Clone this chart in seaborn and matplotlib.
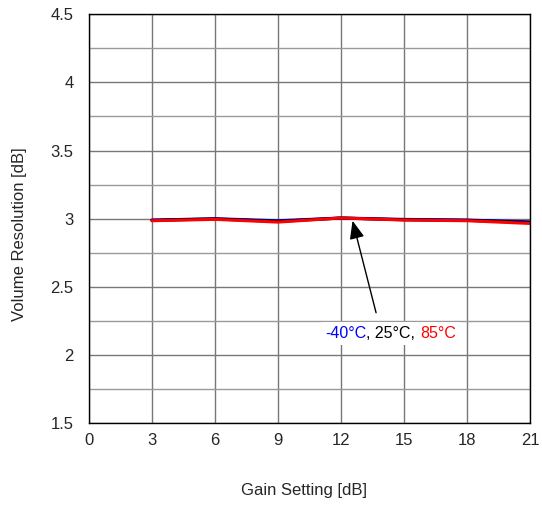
import matplotlib
matplotlib.use("Agg")
import matplotlib.pyplot as plt
import seaborn as sns
import pandas as pd
from matplotlib.ticker import MultipleLocator, FuncFormatter
from matplotlib.patches import Rectangle
from matplotlib.transforms import Bbox

gain = [3, 6, 9, 12, 15, 18, 21]
res_m40 = [2.99, 3.0, 2.985, 3.005, 2.995, 2.99, 2.977]
res_25 = [2.988, 2.998, 2.98, 3.005, 2.992, 2.988, 2.972]
res_85 = [2.985, 2.995, 2.975, 3.005, 2.99, 2.985, 2.965]
temps = ["-40°C", "25°C", "85°C"]
colors = {temps[0]: "#0000ff", temps[1]: "#000000", temps[2]: "#ff0000"}

df = pd.DataFrame({
    "gain": gain * 3,
    "res": res_m40 + res_25 + res_85,
    "temp": [temps[0]] * 7 + [temps[1]] * 7 + [temps[2]] * 7,
})

sns.set_style("white")
plt.rcParams["font.family"] = ["Liberation Sans", "DejaVu Sans"]

fig = plt.figure(figsize=(5.42, 5.08), dpi=100)
ax = fig.add_axes([0.164, 0.167, 0.814, 0.805])

sns.lineplot(data=df, x="gain", y="res", hue="temp", palette=colors,
             linewidth=2.2, legend=False, ax=ax)

ax.set_xlim(0, 21)
ax.set_ylim(1.5, 4.5)
ax.xaxis.set_major_locator(MultipleLocator(3))
ax.yaxis.set_major_locator(MultipleLocator(0.5))
ax.yaxis.set_minor_locator(MultipleLocator(0.25))
ax.yaxis.set_major_formatter(FuncFormatter(lambda v, p: f"{v:g}"))
ax.grid(True, which="major", axis="both", color="#777777", linewidth=1.0)
ax.grid(True, which="minor", axis="y", color="#999999", linewidth=1.0)
ax.set_axisbelow(True)
for s in ax.spines.values():
    s.set_color("black")
    s.set_linewidth(1.0)
ax.tick_params(axis="y", which="both", length=0, labelsize=12, pad=11)
ax.tick_params(axis="x", which="both", length=0, labelsize=12, pad=7)

ax.set_xlabel("Gain Setting [dB]", fontsize=12)
ax.set_ylabel("Volume Resolution [dB]", fontsize=12)
ax.xaxis.label.set_va("center")
ax.yaxis.label.set_va("center")
ax.xaxis.set_label_coords(0.4875, -0.164)
ax.yaxis.set_label_coords(-0.158, 0.462)

ax.annotate("", xy=(12.55, 2.985), xytext=(13.67, 2.31),
            arrowprops=dict(arrowstyle="-|>,head_length=1.1,head_width=0.45",
                            color="black", lw=1.0, shrinkA=0, shrinkB=0))

fs = 11.5
pieces = ["-40°C", ", 25°C, ", "85°C"]
x_start, y_txt = 11.25, 2.155
t1 = ax.text(x_start, y_txt, pieces[0], color=colors[temps[0]], fontsize=fs,
             ha="left", va="center", zorder=6)
t2 = ax.annotate(pieces[1], xy=(1, 0), xycoords=t1, color=colors[temps[1]],
                 fontsize=fs, ha="left", va="bottom", zorder=6)
t3 = ax.annotate(pieces[2], xy=(1, 0), xycoords=t2, color=colors[temps[2]],
                 fontsize=fs, ha="left", va="bottom", zorder=6)

fig.canvas.draw()
r = fig.canvas.get_renderer()
bb = Bbox.union([t.get_window_extent(r) for t in (t1, t2, t3)])
pad = 4
inv = ax.transAxes.inverted()
(x0, y0), (x1, y1) = inv.transform([[bb.x0 - pad, bb.y0 - pad], [bb.x1 + pad, bb.y1 + pad]])
ax.add_patch(Rectangle((x0, y0), x1 - x0, y1 - y0, transform=ax.transAxes,
                       facecolor="white", edgecolor="none", zorder=3))

fig.savefig("out.png", dpi=100)
